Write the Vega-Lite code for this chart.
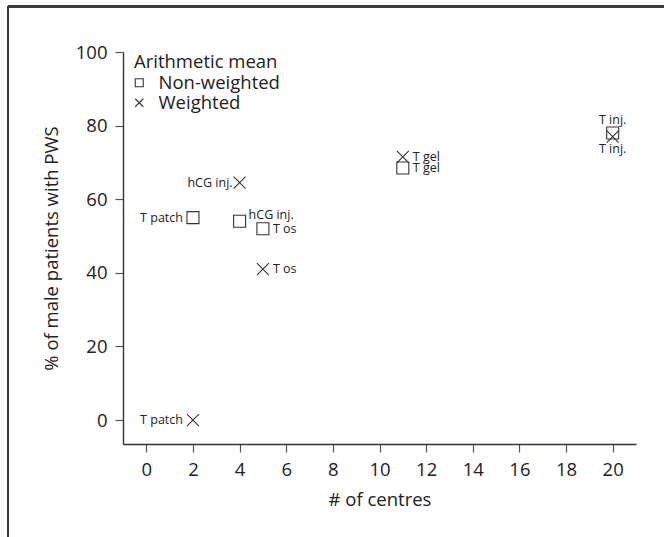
{
  "$schema": "https://vega.github.io/schema/vega-lite/v6.json",
  "width": 513,
  "height": 392,
  "autosize": "none",
  "padding": {"left": 123, "top": 52, "right": 28, "bottom": 93},
  "background": "white",
  "config": {
    "font": "Open Sans",
    "view": {"stroke": null},
    "axis": {
      "grid": false,
      "domainColor": "#333",
      "domainWidth": 1.4,
      "tickColor": "#555",
      "tickWidth": 1.2,
      "tickSize": 8,
      "labelFontSize": 18.5,
      "labelColor": "#222",
      "labelPadding": 8,
      "titleFontSize": 18.5,
      "titleFontWeight": "normal",
      "titleColor": "#222"
    }
  },
  "data": {
    "values": [
      {"centres": 2, "pct": 55, "series": "Non-weighted", "label": "T patch"},
      {"centres": 4, "pct": 54, "series": "Non-weighted", "label": "hCG inj."},
      {"centres": 5, "pct": 52, "series": "Non-weighted", "label": "T os"},
      {"centres": 11, "pct": 68.5, "series": "Non-weighted", "label": "T gel"},
      {"centres": 20, "pct": 78, "series": "Non-weighted", "label": "T inj."},
      {"centres": 2, "pct": 0, "series": "Weighted", "label": "T patch"},
      {"centres": 4, "pct": 64.5, "series": "Weighted", "label": "hCG inj."},
      {"centres": 5, "pct": 41, "series": "Weighted", "label": "T os"},
      {"centres": 11, "pct": 71.5, "series": "Weighted", "label": "T gel"},
      {"centres": 20, "pct": 77, "series": "Weighted", "label": "T inj."}
    ]
  },
  "encoding": {
    "x": {
      "field": "centres", "type": "quantitative",
      "scale": {"domain": [-1, 21], "nice": false, "zero": false},
      "axis": {"values": [0, 2, 4, 6, 8, 10, 12, 14, 16, 18, 20], "title": "# of centres", "titlePadding": 12}
    },
    "y": {
      "field": "pct", "type": "quantitative",
      "scale": {"domain": [-6.5, 100], "nice": false, "zero": false},
      "axis": {"values": [0, 20, 40, 60, 80, 100], "title": "% of male patients with PWS", "titlePadding": 14}
    }
  },
  "layer": [
    {
      "mark": {"type": "rule", "color": "#3a3a3a", "strokeWidth": 1.6, "clip": false},
      "encoding": {
        "x": {"datum": -5.93, "type": "quantitative"},
        "y": {"datum": 112.4, "type": "quantitative"},
        "y2": {"datum": -40}
      }
    },
    {
      "mark": {"type": "rule", "color": "#3a3a3a", "strokeWidth": 1.6, "clip": false},
      "encoding": {
        "x": {"datum": -5.93, "type": "quantitative"},
        "x2": {"datum": 24},
        "y": {"datum": 112.4, "type": "quantitative"}
      }
    },
    {
      "mark": {"type": "point", "filled": false, "size": 144, "stroke": "#333", "strokeWidth": 1.1, "opacity": 1},
      "encoding": {
        "shape": {
          "field": "series", "type": "nominal",
          "scale": {"domain": ["Non-weighted", "Weighted"], "range": ["square", "M-1,-1L1,1M1,-1L-1,1"]},
          "legend": {
            "title": "Arithmetic mean",
            "orient": "none",
            "legendX": 11,
            "legendY": 1,
            "titleFontSize": 18.5,
            "titleFontWeight": "normal",
            "titleColor": "#222",
            "titlePadding": 2,
            "labelFontSize": 18.5,
            "labelColor": "#222",
            "labelOffset": 10,
            "symbolOffset": -4,
            "symbolSize": 64,
            "symbolStrokeColor": "#333",
            "symbolStrokeWidth": 1.1,
            "rowPadding": 1
          }
        }
      }
    },
    {
      "transform": [{"filter": "datum.label == 'T patch'"}],
      "mark": {"type": "text", "align": "right", "baseline": "middle", "dx": -10, "fontSize": 12.5, "color": "#222"},
      "encoding": {"text": {"field": "label"}}
    },
    {
      "transform": [{"filter": "datum.label == 'hCG inj.' && datum.series == 'Weighted'"}],
      "mark": {"type": "text", "align": "right", "baseline": "middle", "dx": -7, "fontSize": 12.5, "color": "#222"},
      "encoding": {"text": {"field": "label"}}
    },
    {
      "transform": [{"filter": "datum.label == 'hCG inj.' && datum.series == 'Non-weighted'"}],
      "mark": {"type": "text", "align": "left", "baseline": "middle", "dx": 9, "dy": -6, "fontSize": 12.5, "color": "#222"},
      "encoding": {"text": {"field": "label"}}
    },
    {
      "transform": [{"filter": "datum.label == 'T os' || datum.label == 'T gel'"}],
      "mark": {"type": "text", "align": "left", "baseline": "middle", "dx": 10, "fontSize": 12.5, "color": "#222"},
      "encoding": {"text": {"field": "label"}}
    },
    {
      "transform": [{"filter": "datum.label == 'T inj.' && datum.series == 'Non-weighted'"}],
      "mark": {"type": "text", "align": "center", "baseline": "bottom", "dy": -6, "fontSize": 12.5, "color": "#222"},
      "encoding": {"text": {"field": "label"}}
    },
    {
      "transform": [{"filter": "datum.label == 'T inj.' && datum.series == 'Weighted'"}],
      "mark": {"type": "text", "align": "center", "baseline": "top", "dy": 6, "fontSize": 12.5, "color": "#222"},
      "encoding": {"text": {"field": "label"}}
    }
  ]
}
